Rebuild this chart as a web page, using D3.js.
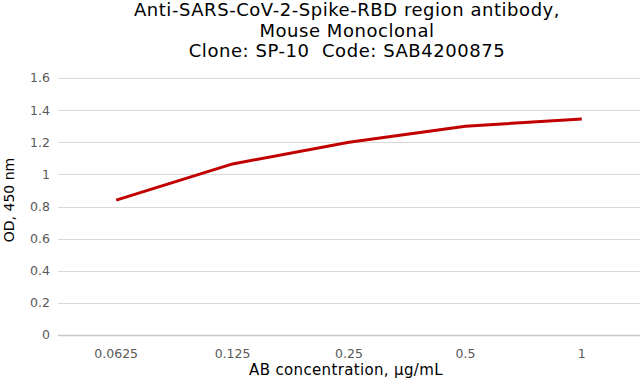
<!DOCTYPE html>
<html>
<head>
<meta charset="utf-8">
<script src="https://cdn.jsdelivr.net/npm/d3@7"></script>
<style>
  body { margin: 0; background: #fff; }
  text { font-family: "DejaVu Sans", Verdana, sans-serif; white-space: pre; }
</style>
</head>
<body>
<svg id="chart" width="640" height="388"></svg>
<script>
// chart data
var concentrations = ["0.0625", "0.125", "0.25", "0.5", "1"];
var odValues = [0.84, 1.065, 1.20, 1.30, 1.345];
var yTicks = [0, 0.2, 0.4, 0.6, 0.8, 1, 1.2, 1.4, 1.6];
var titleLines = [
    "Anti-SARS-CoV-2-Spike-RBD region antibody,",
    "Mouse Monoclonal",
    "Clone: SP-10  Code: SAB4200875"
];

var WIDTH = 640, HEIGHT = 388;
var margin = { top: 78, right: 0, bottom: 53, left: 58 };

var svg = d3.select("#chart");

var x = d3.scaleBand()
    .domain(concentrations)
    .range([margin.left, WIDTH - margin.right]);

var y = d3.scaleLinear()
    .domain([0, 1.6])
    .range([HEIGHT - margin.bottom, margin.top]);

// gridlines
svg.append("g")
    .selectAll("line")
    .data(yTicks)
    .enter()
    .append("line")
    .attr("x1", margin.left)
    .attr("x2", WIDTH - margin.right)
    .attr("y1", function(d) { return Math.round(y(d)) + 0.5; })
    .attr("y2", function(d) { return Math.round(y(d)) + 0.5; })
    .attr("stroke", function(d) { return d === 0 ? "#c8c8c8" : "#d9d9d9"; })
    .attr("stroke-width", function(d) { return d === 0 ? 1.5 : 1; });

// y tick labels
svg.append("g")
    .selectAll("text")
    .data(yTicks)
    .enter()
    .append("text")
    .attr("x", 50)
    .attr("y", function(d) { return y(d); })
    .attr("dy", "0.35em")
    .attr("text-anchor", "end")
    .attr("font-size", 12.5)
    .attr("fill", "#595959")
    .text(function(d) { return d; });

// x tick labels
svg.append("g")
    .selectAll("text")
    .data(concentrations)
    .enter()
    .append("text")
    .attr("x", function(d) { return x(d) + x.bandwidth() / 2; })
    .attr("y", 358)
    .attr("text-anchor", "middle")
    .attr("font-size", 12.5)
    .attr("fill", "#595959")
    .text(function(d) { return d; });

// the curve
var line = d3.line()
    .x(function(d, i) { return x(concentrations[i]) + x.bandwidth() / 2; })
    .y(function(d) { return y(d); });

svg.append("path")
    .datum(odValues)
    .attr("d", line)
    .attr("fill", "none")
    .attr("stroke", "#c00000")
    .attr("stroke-width", 3)
    .attr("stroke-linejoin", "round");

// title
svg.append("g")
    .selectAll("text")
    .data(titleLines)
    .enter()
    .append("text")
    .attr("x", 347)
    .attr("y", function(d, i) { return 16 + i * 20.5; })
    .attr("text-anchor", "middle")
    .attr("font-size", 18)
    .attr("letter-spacing", 0.55)
    .attr("fill", "#000")
    .text(function(d) { return d; });

// axis titles
svg.append("text")
    .attr("x", 346)
    .attr("y", 375)
    .attr("text-anchor", "middle")
    .attr("font-size", 15)
    .attr("letter-spacing", 0.35)
    .attr("fill", "#000")
    .text("AB concentration, µg/mL");

svg.append("text")
    .attr("transform", "translate(14," + 200 + ") rotate(-90)")
    .attr("text-anchor", "middle")
    .attr("font-size", 14)
    .attr("fill", "#000")
    .text("OD, 450 nm");
</script>
</body>
</html>
